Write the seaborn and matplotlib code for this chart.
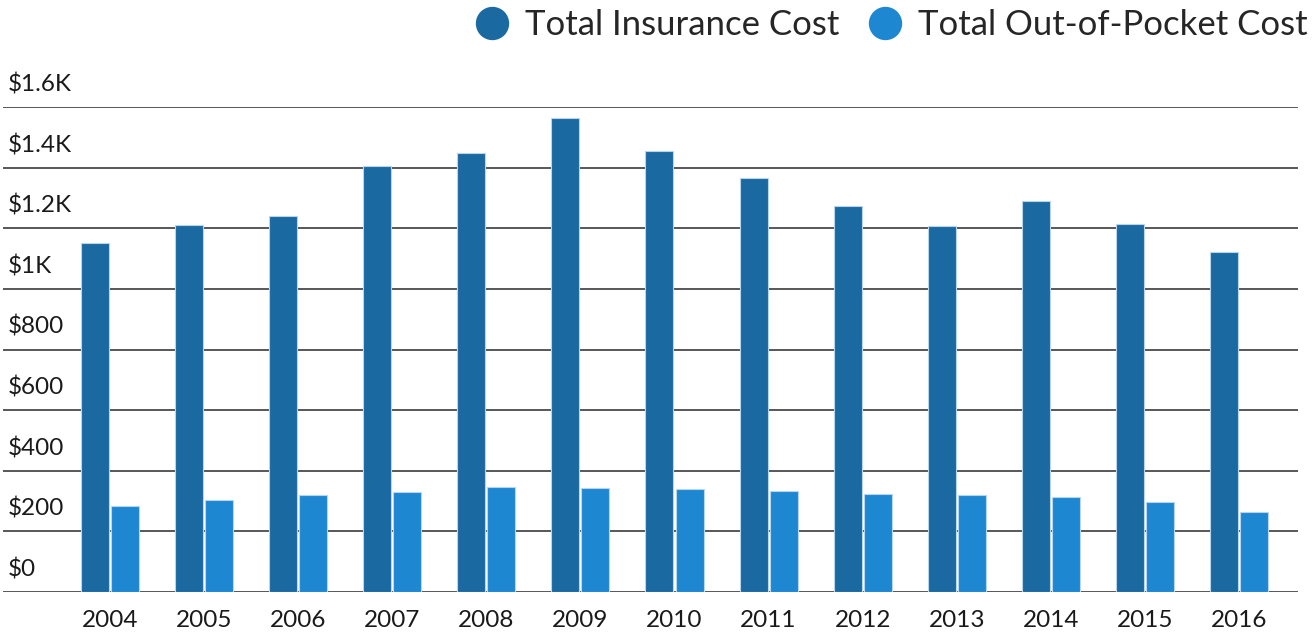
import pandas as pd
import matplotlib.pyplot as plt
from matplotlib.lines import Line2D
from matplotlib.transforms import blended_transform_factory
import seaborn as sns

# values
years = ["2004", "2005", "2006", "2007", "2008", "2009", "2010",
         "2011", "2012", "2013", "2014", "2015", "2016"]
insurance_cost = [1151, 1210, 1242, 1405, 1447, 1565, 1456,
                  1366, 1272, 1206, 1289, 1215, 1121]
out_of_pocket_cost = [284, 305, 319, 330, 347, 343, 341,
                      334, 324, 320, 315, 298, 264]
series_names = ["Total Insurance Cost", "Total Out-of-Pocket Cost"]
y_ticks = [0, 200, 400, 600, 800, 1000, 1200, 1400, 1600]
y_tick_labels = ["$0", "$200", "$400", "$600", "$800", "$1K", "$1.2K", "$1.4K", "$1.6K"]

colors = ["#1b69a1", "#1d87d1"]

sns.set_style("white")
plt.rcParams["font.family"] = ["Lato", "DejaVu Sans"]

df = pd.DataFrame({
    "year": years * 2,
    "cost": insurance_cost + out_of_pocket_cost,
    "series": [series_names[0]] * len(years) + [series_names[1]] * len(years),
})

fig = plt.figure(figsize=(13.15, 6.34), dpi=100)
ax = fig.add_axes([3 / 1315, 42 / 634, 1295 / 1315, 485 / 634])

sns.barplot(data=df, x="year", y="cost", hue="series", order=years,
            hue_order=series_names, palette=colors, saturation=1,
            width=0.64, gap=0.07, edgecolor="#b9d5ec", linewidth=0.8,
            legend=False, ax=ax)

ax.set_xlim(-1.137, 12.627)
ax.set_ylim(0, 1600)
ax.set_yticks(y_ticks)
ax.set_yticklabels([])
ax.tick_params(axis="y", length=0)
ax.tick_params(axis="x", length=0, pad=13, labelsize=17.5, labelcolor="#1a1a1a")
ax.set_xlabel("")
ax.set_ylabel("")
for s in ax.spines.values():
    s.set_visible(False)

# horizontal gridlines, drawn behind bars
ax.set_axisbelow(True)
ax.yaxis.grid(True, color="#4a4a4a", linewidth=1.3)
ax.xaxis.grid(False)

# y labels sit above each gridline, inside the plot
trans = blended_transform_factory(ax.transAxes, ax.transData)
for v, lab in zip(y_ticks, y_tick_labels):
    ax.text(5 / 1295, v + 38, lab, transform=trans, ha="left", va="bottom",
            fontsize=17.5, color="#1a1a1a", clip_on=False)

handles = [Line2D([], [], marker="o", linestyle="", markersize=23,
                  markerfacecolor=c, markeredgecolor=c) for c in colors]
fig.legend(handles, series_names, loc="upper right", bbox_to_anchor=(1.018, 1.035),
           ncol=2, frameon=False, fontsize=25, handletextpad=0.35,
           columnspacing=0.7, handlelength=1.2)

fig.savefig("out.png", dpi=100)
